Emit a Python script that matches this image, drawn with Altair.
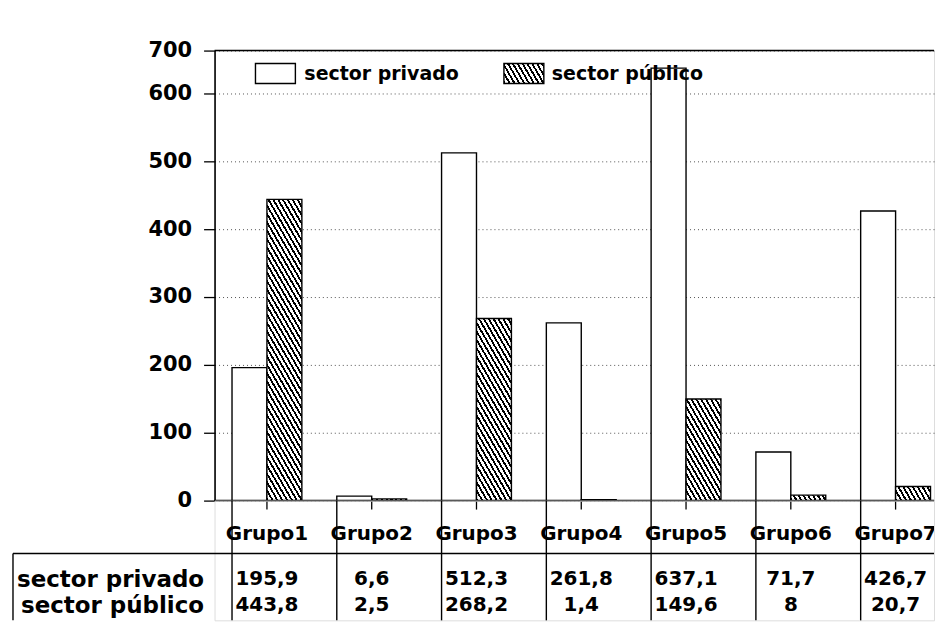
import math
import altair as alt

# ---------------- data ----------------
grupos = ["Grupo1", "Grupo2", "Grupo3", "Grupo4", "Grupo5", "Grupo6", "Grupo7"]
series = ["sector privado", "sector público"]
privado = [195.9, 6.6, 512.3, 261.8, 637.1, 71.7, 426.7]
publico = [443.8, 2.5, 268.2, 1.4, 149.6, 8, 20.7]
y_ticks = [0, 100, 200, 300, 400, 500, 600]
top_label = "700"

# ---------------- layout ----------------
FONT = "DejaVu Sans"
Y_MAX = 663          # value at the top edge of the plot (labelled "700" in the original)
W = 721              # visible plot width
BAND_RANGE = 735     # x range (last band slightly cut, as in the original)
H = 451              # plot height
TABLE_H = 120
BAR_W = 35
LEFT_EDGE = -202


def hatch(w, h, angle=60.0, period=4.2, lw=1.8):
    """Diagonal hatch as a linear gradient in bounding-box units."""
    w = max(w, 0.5)
    h = max(h, 0.5)
    th = math.radians(angle)
    nx, ny = math.sin(th), -math.cos(th)
    L = nx * w - ny * h
    k = L / (nx * nx * w * w + ny * ny * h * h)
    x2 = k * nx * w
    y2 = 1 + k * ny * h
    n = L / period
    f = lw / period
    stops = []
    i = 0
    while True:
        a = i / n
        if a >= 1:
            break
        b = min((i + f) / n, 1.0)
        c = min((i + 1) / n, 1.0)
        stops += [
            {"offset": round(a, 5), "color": "black"},
            {"offset": round(b, 5), "color": "black"},
            {"offset": round(b, 5), "color": "white"},
            {"offset": round(c, 5), "color": "white"},
        ]
        i += 1
    return {"gradient": "linear", "x1": 0, "y1": 1, "x2": round(x2, 5),
            "y2": round(y2, 5), "stops": stops}


bar_rows = []
tab_rows = []
for g, vp, vq in zip(grupos, privado, publico):
    bar_rows.append({"grupo": g, "serie": series[0], "valor": vp, "relleno": "white"})
    bar_rows.append({"grupo": g, "serie": series[1], "valor": vq,
                     "relleno": hatch(BAR_W, vq / Y_MAX * H)})
    tab_rows.append({"grupo": g, "serie": series[0], "valor": vp})
    tab_rows.append({"grupo": g, "serie": series[1], "valor": vq})

xscale = alt.Scale(domain=grupos, range=[0, BAND_RANGE], paddingInner=1 / 3, paddingOuter=1 / 6)
yscale = alt.Scale(domain=[0, Y_MAX], nice=False, zero=True)

bars = alt.Chart(alt.Data(values=bar_rows)).mark_bar(stroke="black", strokeWidth=1.4, clip=True).encode(
    x=alt.X("grupo:N", scale=xscale, axis=None),
    xOffset=alt.XOffset("serie:N", scale=alt.Scale(domain=series, paddingInner=0, paddingOuter=0)),
    y=alt.Y("valor:Q", scale=yscale, stack=None,
            axis=alt.Axis(values=y_ticks + [Y_MAX],
                          labelExpr=f"datum.value == {Y_MAX} ? '{top_label}' : datum.label",
                          title=None, tickSize=11, tickColor="black", tickWidth=1.3,
                          labelPadding=12, labelFontSize=21, labelFont=FONT,
                          labelFontWeight="bold", labelColor="black",
                          grid=True, gridDash=[1, 3], gridColor="#555", gridWidth=1,
                          domainColor="black", domainWidth=1.6)),
    fill=alt.Fill("relleno:N", scale=None, legend=None),
)

one = alt.Data(values=[{"k": 1}])
grp_data = alt.Data(values=[{"grupo": g} for g in grupos])

top_rule = alt.Chart(one).mark_rule(color="black", strokeWidth=1.5).encode(
    y=alt.datum(Y_MAX, type="quantitative"))
zero_rule = alt.Chart(one).mark_rule(color="black", strokeWidth=1.6).encode(
    y=alt.datum(0, type="quantitative"))
# x-axis ticks at the centre of each group, pointing down
x_ticks = alt.Chart(grp_data).mark_rule(color="black", strokeWidth=1.3).encode(
    x=alt.X("grupo:N", scale=xscale, axis=None), y=alt.value(H), y2=alt.value(H + 9))

leg_box1 = alt.Chart(one).mark_rect(stroke="black", strokeWidth=1.4, fill="white").encode(
    x=alt.value(41), x2=alt.value(81), y=alt.value(13), y2=alt.value(33))
leg_box2 = alt.Chart(one).mark_rect(stroke="black", strokeWidth=1.4, fill=hatch(40, 20)).encode(
    x=alt.value(290), x2=alt.value(330), y=alt.value(13), y2=alt.value(33))
leg_txt1 = alt.Chart(one).mark_text(text=series[0], align="left", baseline="middle", fontSize=19,
                                    fontWeight="bold", font=FONT, color="black").encode(
    x=alt.value(90), y=alt.value(23))
leg_txt2 = alt.Chart(one).mark_text(text=series[1], align="left", baseline="middle", fontSize=19,
                                    fontWeight="bold", font=FONT, color="black").encode(
    x=alt.value(338), y=alt.value(23))

top = alt.layer(bars, top_rule, zero_rule, x_ticks, leg_box1, leg_box2, leg_txt1, leg_txt2).properties(
    width=W, height=H)

# ---------------- table ----------------
vlines = alt.Chart(grp_data).mark_rule(color="black", strokeWidth=1.4).encode(
    x=alt.X("grupo:N", scale=xscale, bandPosition=0, axis=None))
header = alt.Chart(grp_data).mark_text(fontSize=20, fontWeight="bold", font=FONT, color="black",
                                       clip=True).encode(
    x=alt.X("grupo:N", scale=xscale, axis=None), y=alt.value(33), text="grupo:N")
sep = alt.Chart(one).mark_rule(color="black", strokeWidth=1.4).encode(
    x=alt.value(LEFT_EDGE), x2=alt.value(W), y=alt.value(53))
left_border = alt.Chart(one).mark_rule(color="black", strokeWidth=1.4).encode(
    x=alt.value(LEFT_EDGE), y=alt.value(53), y2=alt.value(TABLE_H))
cells = alt.Chart(alt.Data(values=tab_rows)).transform_calculate(
    texto="replace(toString(datum.valor), '.', ',')"
).mark_text(fontSize=20, fontWeight="bold", font=FONT, color="black").encode(
    x=alt.X("grupo:N", scale=xscale, axis=None),
    y=alt.Y("serie:N", scale=alt.Scale(type="point", domain=series, range=[79, 105], padding=0),
            axis=alt.Axis(title=None, domain=False, ticks=False, labelPadding=11, labelFontSize=23,
                          labelFont=FONT, labelFontWeight="bold", labelColor="black", labelLimit=400)),
    text="texto:N",
)

table = alt.layer(vlines, header, sep, left_border, cells).properties(width=W, height=TABLE_H)

chart = alt.vconcat(top, table, spacing=0, bounds="flush").properties(
    padding={"left": 3, "top": 30, "right": 0, "bottom": 0}
).configure_view(stroke=None).configure(background="white")

chart.save("out.html", embed_options={"renderer": "svg", "actions": False})
